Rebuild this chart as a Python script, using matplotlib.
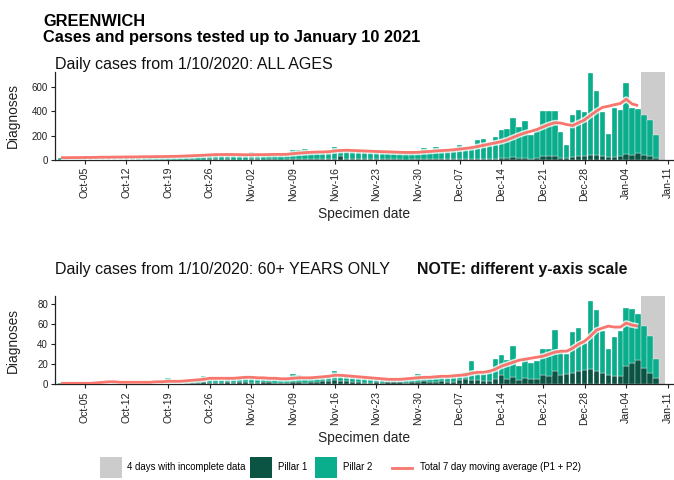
import matplotlib
matplotlib.use('Agg')
import matplotlib.pyplot as plt
import matplotlib.dates as mdates
import matplotlib.patheffects as pe
from matplotlib.patches import Rectangle
from matplotlib.lines import Line2D
from matplotlib import font_manager
import pandas as pd

names = {f.name for f in font_manager.fontManager.ttflist}
NARROW = 'Liberation Sans Narrow' in names
plt.rcParams['font.family'] = ['Liberation Sans', 'DejaVu Sans']

# ---------------- data ----------------
dates = pd.date_range('2020-10-01', '2021-01-09')
avg_dates = pd.date_range('2020-10-01', '2021-01-06')
tick_dates = pd.date_range('2020-10-05', '2021-01-11', freq='7D')
incomplete_start = pd.Timestamp('2021-01-07')
incomplete_days = 4

all_total = [18, 22, 15, 20, 24, 26, 21,
             25, 28, 22, 18, 27, 30, 29,
             31, 28, 25, 24, 35, 38, 33,
             40, 44, 38, 36, 52, 55, 48,
             45, 42, 40, 38, 62, 48, 44,
             46, 50, 42, 45, 85, 80, 90,
             70, 72, 65, 68, 110, 85, 90,
             80, 75, 72, 68, 70, 66, 64,
             62, 60, 58, 62, 70, 100, 72,
             105, 88, 82, 85, 123, 108, 110,
             165, 170, 150, 185, 243, 256, 343,
             270, 316, 208, 248, 400, 399, 400,
             230, 122, 365, 410, 392, 710, 567,
             392, 211, 424, 405, 629, 424, 418,
             370, 329, 203]
all_p1 = [2, 3, 1, 2, 3, 2, 2,
          3, 2, 2, 1, 3, 3, 2,
          3, 2, 3, 2, 4, 3, 3,
          4, 5, 3, 4, 6, 5, 4,
          5, 4, 3, 4, 6, 5, 4,
          5, 6, 4, 5, 8, 7, 6,
          6, 7, 5, 6, 12, 30, 9,
          8, 7, 6, 5, 6, 5, 5,
          6, 5, 4, 5, 6, 8, 6,
          8, 7, 6, 7, 9, 8, 9,
          12, 10, 9, 11, 14, 16, 22,
          15, 18, 12, 14, 35, 33, 36,
          20, 18, 28, 30, 32, 42, 40,
          30, 22, 28, 30, 45, 42, 58,
          40, 30, 14]
all_avg = [19, 19, 20, 20, 21, 21, 22,
           23, 23, 24, 24, 25, 25, 26,
           27, 27, 28, 28, 29, 30, 31,
           33, 35, 37, 39, 42, 44, 45,
           45, 45, 44, 43, 43, 44, 44,
           45, 46, 46, 47, 52, 56, 60,
           63, 65, 66, 68, 74, 78, 80,
           78, 76, 74, 72, 70, 68, 67,
           65, 63, 62, 62, 63, 67, 70,
           74, 77, 80, 84, 89, 95, 101,
           110, 120, 130, 140, 150, 165, 185,
           205, 222, 235, 250, 270, 290, 305,
           302, 290, 282, 305, 328, 365, 400,
           430, 440, 452, 462, 497, 458, 445]

old_total = [1, 2, 0, 1, 2, 1, 1,
             2, 3, 2, 1, 2, 3, 2,
             2, 3, 2, 4, 6, 3, 3,
             4, 3, 5, 8, 6, 5, 4,
             6, 5, 6, 7, 6, 5, 7,
             6, 5, 4, 5, 10, 9, 6,
             7, 6, 8, 9, 13, 8, 9,
             7, 6, 6, 5, 5, 4, 6,
             5, 6, 5, 6, 10, 8, 7,
             8, 7, 8, 9, 10, 12, 23,
             12, 10, 13, 25, 29, 24, 38,
             18, 25, 21, 23, 35, 35, 54,
             33, 30, 52, 56, 41, 83, 74,
             53, 35, 47, 53, 76, 75, 70,
             58, 48, 25]
old_p1 = [0, 1, 0, 0, 1, 0, 0,
          1, 1, 0, 0, 1, 1, 0,
          1, 1, 0, 1, 1, 1, 1,
          1, 1, 1, 2, 1, 1, 1,
          2, 1, 2, 2, 1, 1, 2,
          2, 1, 1, 1, 2, 2, 1,
          2, 2, 3, 3, 4, 3, 3,
          2, 2, 1, 1, 2, 1, 2,
          2, 2, 1, 2, 2, 3, 2,
          2, 3, 2, 2, 4, 5, 4,
          4, 3, 3, 5, 9, 5, 7,
          4, 6, 5, 5, 9, 8, 13,
          9, 10, 11, 13, 14, 15, 13,
          11, 9, 8, 8, 18, 21, 24,
          16, 11, 6]
old_avg = [1, 1, 1, 1, 1, 1, 1.5,
           2, 2.5, 2.5, 2, 2, 2, 2,
           2, 2, 2.5, 2.5, 3, 3, 3,
           3.5, 4, 4.5, 5, 6, 6, 6,
           6, 6, 6.5, 7, 7, 6.5, 6.5,
           6, 6, 5.5, 5.5, 6, 6.5, 6.5,
           6.5, 7, 7.5, 8, 9, 9, 8.5,
           8, 7.5, 7, 6.5, 6, 5.5, 5,
           5, 5, 5.5, 6, 6.5, 7, 7,
           7.5, 8, 8, 8.5, 9, 9.5, 11,
           12, 12, 13, 15, 18, 20, 22,
           24, 25, 26, 27, 28, 30, 32,
           33, 33, 36, 40, 43, 48, 54,
           56, 58, 57, 57, 61, 59, 58]

all_p2 = [t - p for t, p in zip(all_total, all_p1)]
old_p2 = [t - p for t, p in zip(old_total, old_p1)]

# ---------------- style ----------------
C_P1 = '#0b5444'
C_P2 = '#0aae8c'
C_AVG = '#f8766d'
C_GREY = '#cccccc'

fig = plt.figure(figsize=(6.74, 4.8), dpi=100)

title_font = dict(family=['Liberation Sans Narrow', 'Liberation Sans'], size=13.6) if NARROW \
    else dict(family=['Liberation Sans', 'DejaVu Sans'], size=11.8)
fig.text(43 / 674, 1 - 26.5 / 480, 'GREENWICH', fontweight='bold', va='baseline', ha='left', **title_font)
fig.text(43 / 674, 1 - 42 / 480, 'Cases and persons tested up to January 10 2021',
         fontweight='bold', va='baseline', ha='left', **title_font)

px_per_day = 5.95
left_px = 55
x0 = mdates.date2num(pd.Timestamp('2020-09-30'))
x1 = x0 + (674 - left_px) / px_per_day


def panel(rect, p1, p2, avg, yticks, ymax):
    ax = fig.add_axes(rect)
    g0 = mdates.date2num(incomplete_start) - 0.5
    ax.add_patch(Rectangle((g0, 0), incomplete_days, ymax, facecolor=C_GREY,
                           edgecolor='none', zorder=0))
    ax.bar(dates, p1, width=0.92, color=C_P1, edgecolor='white', linewidth=0.25, zorder=2)
    ax.bar(dates, p2, bottom=p1, width=0.92, color=C_P2, edgecolor='white', linewidth=0.25, zorder=2)
    ax.plot(avg_dates, avg, color=C_AVG, lw=2.0, zorder=3, solid_capstyle='butt',
            path_effects=[pe.Stroke(linewidth=4.2, foreground='white', alpha=0.8), pe.Normal()])
    ax.set_xlim(x0, x1)
    ax.set_ylim(0, ymax)
    ax.set_yticks(yticks)
    ax.set_xticks(tick_dates)
    ax.xaxis.set_major_formatter(mdates.DateFormatter('%b-%d'))
    for s in ('top', 'right'):
        ax.spines[s].set_visible(False)
    for s in ('left', 'bottom'):
        ax.spines[s].set_linewidth(0.9)
        ax.spines[s].set_color('#222222')
    ax.tick_params(axis='x', labelsize=7.6, rotation=90, length=3, width=0.8, pad=2, colors='#222222')
    ax.tick_params(axis='y', labelsize=7, length=3, width=0.8, pad=2, colors='#222222')
    ax.set_ylabel('Diagnoses', fontsize=9.9, color='#222222')
    ax.yaxis.set_label_coords(-0.057, 0.5)
    ax.set_xlabel('Specimen date', fontsize=9.9, color='#222222')
    ax.xaxis.set_label_coords(0.5, -0.53)
    return ax


left = left_px / 674
width = 1 - left
h = 88.3 / 480
panel([left, 1 - 160 / 480, width, h], all_p1, all_p2, all_avg, [0, 200, 400, 600], 722)
panel([left, 1 - 384.3 / 480, width, h], old_p1, old_p2, old_avg, [0, 20, 40, 60, 80], 88)

fig.text(55 / 674, 1 - 68.5 / 480, 'Daily cases from 1/10/2020: ALL AGES', fontsize=11.5,
         va='baseline', ha='left', color='#111111')
fig.text(55 / 674, 1 - 274 / 480, 'Daily cases from 1/10/2020: 60+ YEARS ONLY', fontsize=11.5,
         va='baseline', ha='left', color='#111111')
fig.text(416.5 / 674, 1 - 274 / 480, 'NOTE: different y-axis scale', fontsize=11.4,
         fontweight='bold', va='baseline', ha='left', color='#111111')

# ---------------- legend ----------------
ky0 = 1 - 478 / 480
kh = 21 / 480
kw = 22 / 674
yc = 1 - 467.5 / 480
fig.add_artist(Rectangle((100 / 674, ky0), kw, kh, transform=fig.transFigure, facecolor=C_GREY, edgecolor='none'))
fig.text(127 / 674, yc, '4 days with incomplete data', fontsize=6.9, va='center', ha='left')
fig.add_artist(Rectangle((250 / 674, ky0), kw, kh, transform=fig.transFigure, facecolor=C_P1, edgecolor='none'))
fig.text(278 / 674, yc, 'Pillar 1', fontsize=6.9, va='center', ha='left')
fig.add_artist(Rectangle((315 / 674, ky0), kw, kh, transform=fig.transFigure, facecolor=C_P2, edgecolor='none'))
fig.text(343 / 674, yc, 'Pillar 2', fontsize=6.9, va='center', ha='left')
fig.add_artist(Line2D([392 / 674, 412 / 674], [yc, yc], transform=fig.transFigure, color=C_AVG, lw=2.0))
fig.text(420 / 674, yc, 'Total 7 day moving average (P1 + P2)', fontsize=6.9, va='center', ha='left')

fig.savefig('out.png', dpi=100)
